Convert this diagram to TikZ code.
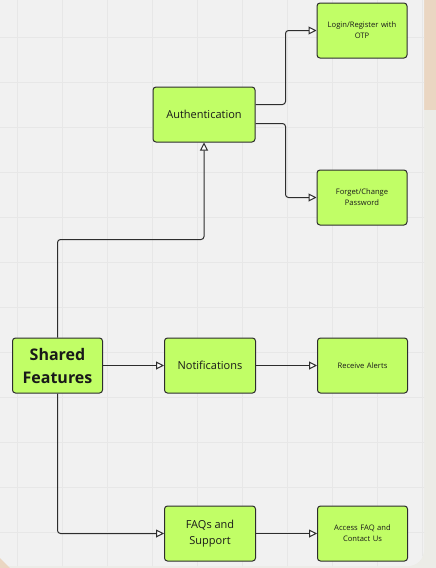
\documentclass[tikz,border=0pt]{standalone}
\usepackage{fontspec}
\setmainfont{Open Sans}
\usetikzlibrary{positioning}
\usetikzlibrary{arrows.meta}
\usetikzlibrary{calc}
\definecolor{limefill}{RGB}{193,254,102}
\definecolor{boardgray}{RGB}{241,241,241}
\definecolor{gridgray}{RGB}{231,231,231}
\definecolor{peach}{RGB}{234,214,194}
\definecolor{outside}{RGB}{236,236,231}
\definecolor{inkgray}{RGB}{45,45,45}
\tikzset{
	% boxes
	feature/.style={draw=inkgray, line width=1pt, rectangle, rounded corners=3pt, fill=limefill, text=black!90, align=center, minimum height=55pt, inner sep=2pt},
	mainfeat/.style={feature, minimum width=90pt, font=\fontsize{16}{23}\selectfont\bfseries},
	subfeat/.style={feature, minimum width=91pt, font=\fontsize{11}{16}\selectfont},
	action/.style={feature, minimum width=90pt, text width=84pt, font=\fontsize{7.6}{11}\selectfont},
	% connectors
	link/.style={draw=inkgray, line width=1pt, rounded corners=3pt, -{Triangle[fill=white, length=8pt, width=8pt]}},
}

\begin{document}
\begin{tikzpicture}[x=1pt, y=1pt]
		
		% board
		\useasboundingbox (0,0) rectangle (436,-568);
		\fill[outside] (0,0) rectangle (436,-568);
		\fill[peach] (380,0) rectangle (436,-110);
		\fill[boardgray, rounded corners=16pt] (-20,20) rectangle (424,-566);
		\fill[peach] (0,-558) -- (10,-568) -- (0,-568) -- cycle;
		\begin{scope}
			\clip[rounded corners=16pt] (-20,20) rectangle (424,-566);
			\foreach \gx in {17,62,...,422}
				\draw[gridgray, line width=1pt] (\gx,0) -- (\gx,-568);
			\foreach \gy in {37,82,...,560}
				\draw[gridgray, line width=1pt] (0,-\gy) -- (436,-\gy);
		\end{scope}
		
		\node (shared) [mainfeat] at (57.5,-365.5) {Shared\\Features};
		
		\node (notif) [subfeat, right=61pt of shared] {Notifications};
		
		\node (alerts) [action, right=61pt of notif] {Receive Alerts};
		
		\node (faq) [subfeat, below=112pt of notif] {FAQs and\\Support};
		
		\node (access) [action, right=61pt of faq] {Access FAQ and\\Contact Us};
		
		\node (auth) [subfeat, minimum width=102pt, above=195pt of notif, xshift=-6pt] {Authentication};
		
		\node (login) [action, right=61pt of auth, yshift=84pt] {Login/Register with\\OTP};
		
		\node (forget) [action, right=61pt of auth, yshift=-83pt] {Forget/Change\\Password};
		
		\coordinate (authturn) at ([yshift=-97pt]auth.south);
		
		\begin{scope}[link]
			\draw (shared.north) |- (authturn) -- (auth.south);
			\draw ([yshift=10pt]auth.east) -- ++(30pt,0) |- (login.west);
			\draw ([yshift=-9pt]auth.east) -- ++(30pt,0) |- (forget.west);
			\draw (shared) -- (notif);
			\draw (notif) -- (alerts);
			\draw (shared.south) |- (faq.west);
			\draw (faq) -- (access);
		\end{scope}
	\end{tikzpicture}
\end{document}
